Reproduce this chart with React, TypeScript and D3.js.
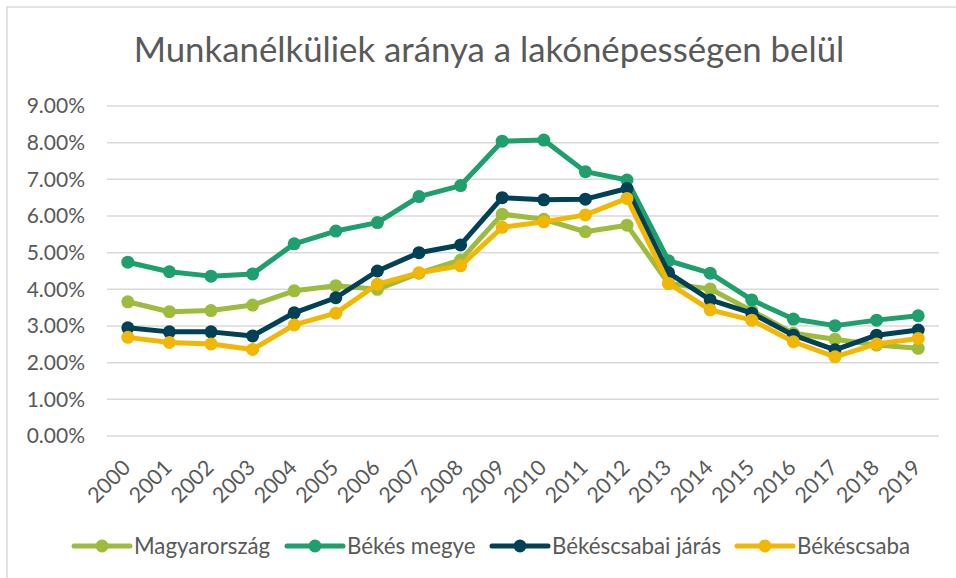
import React from "react";
import * as d3 from "d3";

const years = ["2000","2001","2002","2003","2004","2005","2006","2007","2008","2009","2010","2011","2012","2013","2014","2015","2016","2017","2018","2019"];
const yTicks = [0,1,2,3,4,5,6,7,8,9];

const magyarorszag = [3.66,3.39,3.42,3.57,3.96,4.10,4.00,4.44,4.80,6.05,5.91,5.57,5.75,4.16,4.01,3.42,2.80,2.64,2.48,2.39];
const bekesMegye = [4.74,4.48,4.36,4.42,5.24,5.59,5.82,6.53,6.83,8.04,8.07,7.21,6.98,4.78,4.44,3.71,3.19,3.01,3.16,3.28];
const bekescsabaiJaras = [2.95,2.84,2.84,2.73,3.36,3.77,4.50,5.00,5.21,6.50,6.44,6.46,6.75,4.45,3.71,3.35,2.75,2.35,2.75,2.89];
const bekescsaba = [2.69,2.55,2.51,2.36,3.03,3.35,4.14,4.45,4.64,5.69,5.84,6.03,6.48,4.16,3.44,3.16,2.57,2.16,2.51,2.66];

const seriesNames = ["Magyarország","Békés megye","Békéscsabai járás","Békéscsaba"];
const seriesValues = [magyarorszag, bekesMegye, bekescsabaiJaras, bekescsaba];
const seriesColors = ["#9DBB3D","#1F9E6E","#004156","#F2B705"];

const legendLineX = [74, 287, 492, 737];

export default function App() {
  const font = "Lato, 'Open Sans', sans-serif";
  const x = d3.scaleBand<string>().domain(years).range([107, 939]);
  const cx = (i: number) => (x(years[i]) as number) + x.bandwidth() / 2;
  const y = d3.scaleLinear().domain([0, 9]).range([436, 106]);
  const line = d3.line<number>().x((_, i) => cx(i)).y((d) => y(d));
  const textColor = "#595959";

  return (
    <svg width={956} height={578} style={{ position: "fixed", left: 0, top: 0, background: "#fff" }}>
      <rect x={7} y={7} width={970} height={590} fill="#fff" stroke="#D9D9D9" strokeWidth={1.5} />
      <text x={489} y={62} textAnchor="middle" fontFamily={font} fontSize={34.8} fill={textColor}>
        Munkanélküliek aránya a lakónépességen belül
      </text>
      {yTicks.map((t) => (
        <g key={t}>
          <line x1={107} x2={939} y1={y(t)} y2={y(t)} stroke="#D9D9D9" strokeWidth={1.5} />
          <text x={85} y={y(t)} dy="0.35em" textAnchor="end" fontFamily={font} fontSize={21} fill={textColor}>
            {t.toFixed(2) + "%"}
          </text>
        </g>
      ))}
      {years.map((yr, i) => (
        <text key={yr} transform={`translate(${cx(i) + 4},${469}) rotate(-45)`} textAnchor="end"
          fontFamily={font} fontSize={21.5} fill={textColor}>
          {yr}
        </text>
      ))}
      {seriesValues.map((vals, s) => (
        <g key={s}>
          <path d={line(vals) || ""} fill="none" stroke={seriesColors[s]} strokeWidth={5} strokeLinejoin="round" strokeLinecap="round" />
          {vals.map((v, i) => (
            <circle key={i} cx={cx(i)} cy={y(v)} r={6.5} fill={seriesColors[s]} />
          ))}
        </g>
      ))}
      {seriesNames.map((n, s) => (
        <g key={n}>
          <line x1={legendLineX[s]} x2={legendLineX[s] + 56} y1={546} y2={546} stroke={seriesColors[s]} strokeWidth={5} strokeLinecap="round" />
          <circle cx={legendLineX[s] + 28} cy={546} r={6.5} fill={seriesColors[s]} />
          <text x={legendLineX[s] + 60} y={546} dy="0.35em" fontFamily={font} fontSize={22.3} fill={textColor}>{n}</text>
        </g>
      ))}
    </svg>
  );
}
